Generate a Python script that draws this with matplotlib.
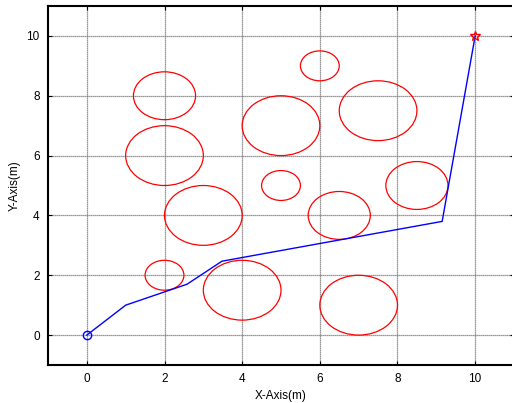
import matplotlib
matplotlib.use("Agg")
import matplotlib.pyplot as plt
from matplotlib.patches import Circle

# Obstacles (circles in data units)
obs_x = [2, 2, 3, 2, 4, 5, 6, 7.5, 5, 6.5, 8.5, 7]
obs_y = [8, 6, 4, 2, 1.5, 7, 9, 7.5, 5, 4, 5, 1]
obs_r = [0.8, 1.0, 1.0, 0.5, 1.0, 1.0, 0.5, 1.0, 0.5, 0.8, 0.8, 1.0]

# Path
path_x = [0, 1, 2.58, 3.48, 9.15, 10]
path_y = [0, 1, 1.70, 2.47, 3.80, 10]

start = (0, 0)
goal = (10, 10)

xticks = [0, 2, 4, 6, 8, 10]
yticks = [0, 2, 4, 6, 8, 10]

plt.rcParams['font.family'] = ['Liberation Sans', 'DejaVu Sans']

fig = plt.figure(figsize=(5.12, 4.03), dpi=100)
ax = fig.add_axes([48/512, 38/403, 466/512, 359/403])

for cx, cy, r in zip(obs_x, obs_y, obs_r):
    ax.add_patch(Circle((cx, cy), r, fill=False, edgecolor='red', linewidth=0.9))

ax.plot(path_x, path_y, color='blue', linewidth=1.0)
ax.plot([start[0]], [start[1]], marker='o', mfc='none', mec='blue', ms=6, mew=1.0, linestyle='none')
ax.plot([goal[0]], [goal[1]], marker='*', mfc='none', mec='red', ms=7, mew=1.0, linestyle='none')

ax.set_xlim(-1, 11)
ax.set_ylim(-1, 11)
ax.set_xticks(xticks)
ax.set_yticks(yticks)
ax.grid(True, color='#777777', linestyle=(0, (1, 0.6)), linewidth=0.9)
ax.set_axisbelow(True)
ax.tick_params(direction='in', length=3, width=0.8, top=True, right=True, labelsize=8.5, pad=6)
for s in ax.spines.values():
    s.set_linewidth(1.5)
ax.set_xlabel('X-Axis(m)', fontsize=8.5, labelpad=3)
ax.set_ylabel('Y-Axis(m)', fontsize=8.5, labelpad=4)

fig.savefig('out.png', dpi=100)
